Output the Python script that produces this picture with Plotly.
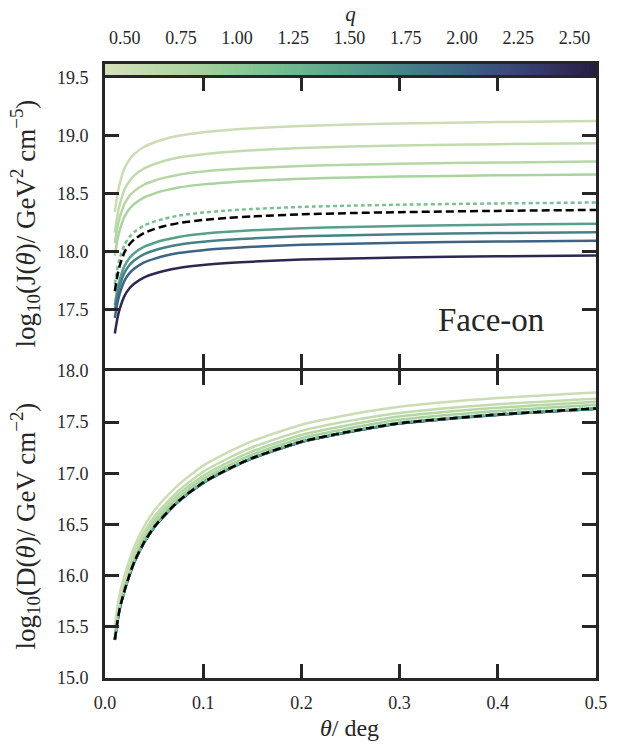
import plotly.graph_objects as go
import plotly.colors as pc
import numpy as np

# ---------------- data ----------------
theta = [0.01, 0.0125, 0.015, 0.02, 0.025, 0.03, 0.04, 0.05, 0.06, 0.075,
         0.1, 0.125, 0.15, 0.2, 0.25, 0.3, 0.4, 0.5]

q_lines = [0.5, 0.6, 0.7, 0.8, 1.15, 1.5, 1.75, 2.0, 2.5]
line_dash = ["solid", "solid", "solid", "solid", "4px,3px", "solid", "solid", "solid", "solid"]

# log10 J (face-on)
J_q050 = [18.341, 18.487, 18.587, 18.722, 18.795, 18.843, 18.904, 18.940, 18.968, 18.998, 19.029, 19.048, 19.062, 19.082, 19.095, 19.104, 19.116, 19.125]
J_q060 = [18.165, 18.308, 18.407, 18.539, 18.610, 18.658, 18.718, 18.753, 18.781, 18.811, 18.840, 18.859, 18.873, 18.893, 18.905, 18.914, 18.926, 18.935]
J_q070 = [18.076, 18.206, 18.296, 18.416, 18.481, 18.524, 18.579, 18.611, 18.636, 18.663, 18.690, 18.707, 18.720, 18.738, 18.749, 18.757, 18.768, 18.776]
J_q080 = [17.966, 18.096, 18.186, 18.306, 18.371, 18.414, 18.469, 18.501, 18.526, 18.553, 18.580, 18.597, 18.610, 18.628, 18.639, 18.647, 18.658, 18.666]
J_q115 = [17.724, 17.854, 17.944, 18.064, 18.129, 18.172, 18.227, 18.259, 18.284, 18.311, 18.338, 18.355, 18.368, 18.386, 18.397, 18.405, 18.416, 18.424]
J_q150 = [17.541, 17.671, 17.761, 17.881, 17.946, 17.989, 18.044, 18.076, 18.101, 18.128, 18.155, 18.172, 18.185, 18.203, 18.214, 18.222, 18.233, 18.241]
J_q175 = [17.497, 17.622, 17.708, 17.823, 17.886, 17.927, 17.980, 18.011, 18.035, 18.061, 18.086, 18.103, 18.115, 18.133, 18.143, 18.151, 18.161, 18.169]
J_q200 = [17.431, 17.554, 17.640, 17.754, 17.816, 17.857, 17.909, 17.939, 17.963, 17.989, 18.014, 18.030, 18.043, 18.060, 18.070, 18.078, 18.088, 18.096]
J_q250 = [17.297, 17.422, 17.508, 17.623, 17.686, 17.727, 17.780, 17.811, 17.835, 17.861, 17.886, 17.903, 17.915, 17.933, 17.943, 17.951, 17.961, 17.969]
J_ref = [17.660, 17.790, 17.880, 18.000, 18.065, 18.108, 18.163, 18.195, 18.220, 18.247, 18.274, 18.291, 18.304, 18.322, 18.333, 18.341, 18.352, 18.360]

# log10 D
D_q050 = [15.520, 15.690, 15.825, 16.005, 16.160, 16.290, 16.485, 16.635, 16.745, 16.890, 17.075, 17.205, 17.315, 17.475, 17.575, 17.650, 17.735, 17.790]
D_q060 = [15.465, 15.635, 15.770, 15.950, 16.105, 16.235, 16.430, 16.575, 16.685, 16.830, 17.015, 17.145, 17.255, 17.415, 17.515, 17.590, 17.675, 17.730]
D_q070 = [15.430, 15.600, 15.735, 15.915, 16.070, 16.200, 16.390, 16.540, 16.650, 16.795, 16.975, 17.105, 17.215, 17.375, 17.475, 17.555, 17.640, 17.700]
D_q080 = [15.405, 15.575, 15.710, 15.890, 16.040, 16.170, 16.360, 16.508, 16.618, 16.763, 16.943, 17.073, 17.183, 17.343, 17.443, 17.523, 17.608, 17.669]
D_q115 = [15.381, 15.551, 15.686, 15.866, 16.016, 16.146, 16.336, 16.481, 16.591, 16.736, 16.916, 17.046, 17.156, 17.316, 17.416, 17.496, 17.581, 17.640]
D_q150 = [15.374, 15.544, 15.679, 15.859, 16.009, 16.139, 16.329, 16.474, 16.584, 16.729, 16.909, 17.039, 17.149, 17.309, 17.409, 17.489, 17.574, 17.633]
D_q175 = [15.373, 15.543, 15.678, 15.858, 16.008, 16.138, 16.328, 16.473, 16.583, 16.728, 16.908, 17.038, 17.148, 17.308, 17.408, 17.488, 17.573, 17.632]
D_q200 = [15.372, 15.542, 15.677, 15.857, 16.007, 16.137, 16.327, 16.472, 16.582, 16.727, 16.907, 17.037, 17.147, 17.307, 17.407, 17.487, 17.572, 17.631]
D_q250 = [15.371, 15.541, 15.676, 15.856, 16.006, 16.136, 16.326, 16.471, 16.581, 16.726, 16.906, 17.036, 17.146, 17.306, 17.406, 17.486, 17.571, 17.630]
D_ref = [15.375, 15.545, 15.680, 15.860, 16.010, 16.140, 16.330, 16.475, 16.585, 16.730, 16.910, 17.040, 17.150, 17.310, 17.410, 17.490, 17.575, 17.634]

J_series = [J_q050, J_q060, J_q070, J_q080, J_q115, J_q150, J_q175, J_q200, J_q250]
D_series = [D_q050, D_q060, D_q070, D_q080, D_q115, D_q150, D_q175, D_q200, D_q250]

cbar_range = [0.4125, 2.596]
cbar_ticks = [0.50, 0.75, 1.00, 1.25, 1.50, 1.75, 2.00, 2.25, 2.50]
x_ticks = [0.0, 0.1, 0.2, 0.3, 0.4, 0.5]
J_ticks = [17.5, 18.0, 18.5, 19.0, 19.5]
D_ticks = [15.0, 15.5, 16.0, 16.5, 17.0, 17.5, 18.0]

# ---------------- style ----------------
cscale = [
    [0.000, "rgb(214,224,188)"],
    [0.125, "rgb(184,216,166)"],
    [0.250, "rgb(148,204,150)"],
    [0.375, "rgb(112,186,145)"],
    [0.500, "rgb(86,160,140)"],
    [0.625, "rgb(68,126,136)"],
    [0.750, "rgb(60,94,130)"],
    [0.875, "rgb(54,60,108)"],
    [1.000, "rgb(40,28,66)"],
]
span = cbar_range[1] - cbar_range[0]
line_colors = pc.sample_colorscale(cscale, [(q - cbar_range[0]) / span for q in q_lines])

AX = "#262626"
FONT = "Liberation Serif, Tinos, Times New Roman, serif"
TICKFONT = dict(family=FONT, size=18, color=AX)
LW = 2.5
SHAPE = dict(shape="spline", smoothing=0.6)

fig = go.Figure()

# top panel: J
for ys, c, d in zip(J_series, line_colors, line_dash):
    fig.add_trace(go.Scatter(x=theta, y=ys, mode="lines", xaxis="x", yaxis="y",
                             line=dict(color=c, width=LW, dash=d, **SHAPE),
                             showlegend=False, hoverinfo="skip"))
fig.add_trace(go.Scatter(x=theta, y=J_ref, mode="lines", xaxis="x", yaxis="y",
                         line=dict(color="black", width=LW, dash="8px,4px", **SHAPE),
                         showlegend=False, hoverinfo="skip"))

# bottom panel: D (dark lines first so the light ones sit on top)
order = [8, 7, 6, 5, 3, 2, 1, 0, 4]
for i in order:
    fig.add_trace(go.Scatter(x=theta, y=D_series[i], mode="lines", xaxis="x2", yaxis="y2",
                             line=dict(color=line_colors[i], width=LW, dash=line_dash[i], **SHAPE),
                             showlegend=False, hoverinfo="skip"))
fig.add_trace(go.Scatter(x=theta, y=D_ref, mode="lines", xaxis="x2", yaxis="y2",
                         line=dict(color="black", width=LW, dash="8px,4px", **SHAPE),
                         showlegend=False, hoverinfo="skip"))

# colour bar drawn as a heatmap strip on its own axis
cb_x = np.linspace(cbar_range[0], cbar_range[1], 241)
fig.add_trace(go.Heatmap(x=cb_x, y=[0], z=[cb_x], colorscale=cscale,
                         zmin=cbar_range[0], zmax=cbar_range[1],
                         showscale=False, xaxis="x3", yaxis="y3", hoverinfo="skip"))

W, H = 619, 747
L, R, T, B = 104.5, 21, 62, 69
ph = H - T - B
def py(pix):
    return (H - B - pix) / ph

common_x = dict(range=[0, 0.5], tickvals=x_ticks, ticks="inside", ticklen=14, tickwidth=2.5,
                tickcolor=AX, showline=True, linewidth=3, linecolor=AX, mirror="ticks",
                showgrid=False, zeroline=False, tickfont=TICKFONT)
common_y = dict(ticks="inside", ticklen=14, tickwidth=2.5, tickcolor=AX, showline=True,
                linewidth=3, linecolor=AX, mirror="ticks", showgrid=False, zeroline=False,
                tickformat=".1f", ticklabelstandoff=10, tickfont=TICKFONT)

fig.update_layout(
    width=W, height=H,
    margin=dict(l=L, r=R, t=T, b=B, pad=0),
    plot_bgcolor="white", paper_bgcolor="white",
    font=dict(family=FONT, size=18, color=AX),
    xaxis=dict(domain=[0, 1], anchor="y", showticklabels=False, **common_x),
    yaxis=dict(domain=[py(367), py(75.5)], anchor="x", range=[17.0, 19.5], tickvals=J_ticks, **common_y),
    xaxis2=dict(domain=[0, 1], anchor="y2", showticklabels=True, tickformat=".1f",
                ticklabelstandoff=6, **common_x),
    yaxis2=dict(domain=[0, py(370)], anchor="x2", range=[15.0, 18.0], tickvals=D_ticks, **common_y),
    xaxis3=dict(domain=[0, 1], anchor="y3", range=cbar_range, side="top", tickvals=cbar_ticks,
                tickformat=".2f", ticks="", showline=True, linewidth=3, linecolor=AX, mirror=True,
                showgrid=False, zeroline=False, ticklabelstandoff=10, tickfont=TICKFONT,
                title=dict(text="<i>q</i>", font=dict(size=21, family=FONT, color=AX), standoff=1)),
    yaxis3=dict(domain=[py(73), 1], anchor="x3", range=[-0.5, 0.5], showticklabels=False,
                ticks="", showline=True, linewidth=3, linecolor=AX, mirror=True,
                showgrid=False, zeroline=False),
)

fig.add_annotation(text="log<sub>10</sub>(J(<i>θ</i>)/ GeV<sup>2</sup> cm<sup>−5</sup>)",
                   xref="paper", yref="paper", x=(25 - L) / (W - L - R), y=py(222),
                   xanchor="center", yanchor="middle", textangle=-90, showarrow=False,
                   font=dict(size=27, family=FONT, color=AX))
fig.add_annotation(text="log<sub>10</sub>(D(<i>θ</i>)/ GeV cm<sup>−2</sup>)",
                   xref="paper", yref="paper", x=(25 - L) / (W - L - R), y=py(525),
                   xanchor="center", yanchor="middle", textangle=-90, showarrow=False,
                   font=dict(size=27, family=FONT, color=AX))
fig.add_annotation(text="<i>θ</i>/ deg", xref="paper", yref="paper",
                   x=(350 - L) / (W - L - R), y=py(728), xanchor="center", yanchor="middle",
                   showarrow=False, font=dict(size=24, family=FONT, color=AX))
fig.add_annotation(text="Face-on", xref="x", yref="y", x=0.3926, y=17.41,
                   xanchor="center", yanchor="middle", showarrow=False,
                   font=dict(size=33, family=FONT, color=AX))

fig.write_html("out.html", config={"displayModeBar": False},
               post_script="document.body.style.margin='0px';")
